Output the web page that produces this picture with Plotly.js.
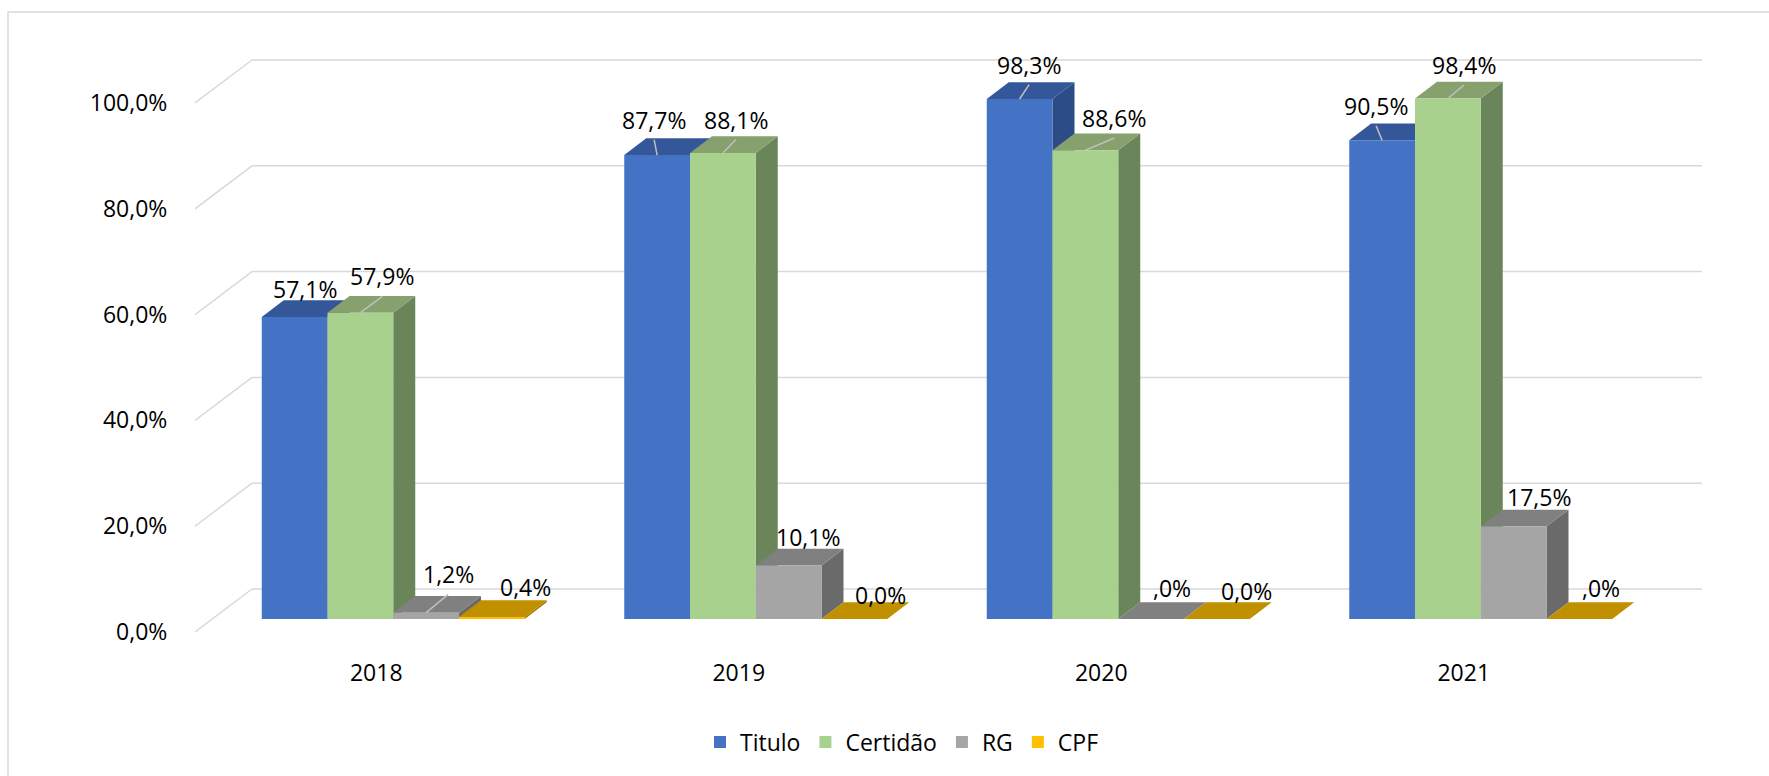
<!DOCTYPE html>
<html><head><meta charset="utf-8">
<script src="https://cdn.plot.ly/plotly-3.0.1.min.js"></script>
<style>html,body{margin:0;padding:0;background:#fff}#chart{width:1769px;height:776px}</style>
</head><body><div id="chart"></div>
<script>
// ---------------- data ----------------
const years = ['2018', '2019', '2020', '2021'];
const seriesNames = ['Titulo', 'Certidão', 'RG', 'CPF'];
const titulo = [0.571, 0.877, 0.983, 0.905];
const certidao = [0.579, 0.881, 0.886, 0.984];
const rg = [0.012, 0.101, 0.0, 0.175];
const cpf = [0.004, 0.0, 0.0, 0.0];
const tituloLabels = ['57,1%', '87,7%', '98,3%', '90,5%'];
const certidaoLabels = ['57,9%', '88,1%', '88,6%', '98,4%'];
const rgLabels = ['1,2%', '10,1%', ',0%', '17,5%'];
const cpfLabels = ['0,4%', '0,0%', '0,0%', ',0%'];
const yTicks = [0, 0.2, 0.4, 0.6, 0.8, 1.0];

// ---------------- layout / style ----------------
const W = 1769, H = 776;
const FRONT = {x0: 195, x1: 1645, yZero: 632, pxPerUnit: 529};
const BAR_SHIFT = {dx: 17, dy: 13};
const WALL_SHIFT = {dx: 57, dy: 43};
const DEPTH = {dx: 22, dy: 16.7};
const BARGAP = 0.2745;
const FONT = 'Open Sans, Noto Sans, sans-serif';
const FS = 23;
const GRID = '#D9D9D9';
const faceColors = [
  {front: '#4472C4', top: '#34579A', side: '#2C4C86'},
  {front: '#A9D18E', top: '#86A06E', side: '#6A8559'},
  {front: '#A5A5A5', top: '#808080', side: '#6A6A6A'},
  {front: '#FFC000', top: '#C09000', side: '#A37B00'}
];
// label nudges in px relative to the top-face centre: [dx, dy(down), leader]
const labelNudge = [
  [[-1, -20, 0], [-14, -27, 1], [-1.5, -26, 1], [-17, -26, 1]],
  [[11, -28, 1], [2, -25, 1], [18, -24, 1], [5, -25, 1]],
  [[11, -30, 1], [8, -20, 0], [10, -23, 0], [14, -21, 0]],
  [[23, -22, 0], [15, -16, 0], [19, -20, 0], [11, -23, 0]]
];

const values = [titulo, certidao, rg, cpf];
const labels = [tituloLabels, certidaoLabels, rgLabels, cpfLabels];

const fx = px => px / W;
const fy = px => 1 - px / H;
const catPx = (FRONT.x1 - FRONT.x0) / years.length;
const ddx = DEPTH.dx / catPx;
const ddy = DEPTH.dy / FRONT.pxPerUnit;
const nS = seriesNames.length;
const bw = (1 - BARGAP) / nS;

// bar traces (front faces)
const traces = seriesNames.map((name, i) => ({
  type: 'bar', name: name, x: years, y: values[i],
  xaxis: 'x2', yaxis: 'y2',
  marker: {color: faceColors[i].front, line: {width: 0}},
  hoverinfo: 'x+y+name'
}));

const shapes = [];
const annotations = [];

// chart border
shapes.push({type: 'rect', xref: 'paper', yref: 'paper', x0: fx(8), x1: 1.05, y0: fy(12), y1: -0.05,
  line: {color: GRID, width: 1.5}, fillcolor: 'rgba(0,0,0,0)', layer: 'below'});

// diagonal lines from front axis to back wall
yTicks.forEach(v => {
  shapes.push({type: 'line', xref: 'x3', yref: 'y3', layer: 'below',
    x0: -0.5, y0: v, x1: -0.5 + WALL_SHIFT.dx / catPx, y1: v + WALL_SHIFT.dy / FRONT.pxPerUnit,
    line: {color: GRID, width: 1.5}});
});

// back-wall gridlines (in the bar plane's coordinates, shifted back)
const wallDx = (WALL_SHIFT.dx - BAR_SHIFT.dx) / catPx;
const wallDy = (WALL_SHIFT.dy - BAR_SHIFT.dy) / FRONT.pxPerUnit;
yTicks.forEach(v => {
  shapes.push({type: 'line', xref: 'x2', yref: 'y2', layer: 'below',
    x0: -0.5 + wallDx, x1: years.length - 0.5 + wallDx, y0: v + wallDy, y1: v + wallDy,
    line: {color: GRID, width: 1.5}});
});

// 3D faces + labels
for (let j = 0; j < years.length; j++) {
  for (let i = 0; i < nS; i++) {
    const v = values[i][j];
    const xa = j - 0.5 + BARGAP / 2 + i * bw;
    const xb = xa + bw;
    const c = faceColors[i];
    shapes.push({type: 'path', xref: 'x2', yref: 'y2', layer: 'below', line: {width: 0}, fillcolor: c.side,
      path: `M${xb},0 L${xb + ddx},${ddy} L${xb + ddx},${v + ddy} L${xb},${v} Z`});
    shapes.push({type: 'path', xref: 'x2', yref: 'y2', layer: 'below', line: {width: 0}, fillcolor: c.top,
      path: `M${xa},${v} L${xa + ddx},${v + ddy} L${xb + ddx},${v + ddy} L${xb},${v} Z`});
    const cx = (xa + xb) / 2 + ddx / 2;
    const cy = v + ddy / 2;
    const nd = labelNudge[i][j];
    annotations.push({xref: 'x2', yref: 'y2', x: cx, y: cy, xshift: nd[0], yshift: -nd[1],
      text: labels[i][j], showarrow: false, xanchor: 'center', yanchor: 'middle',
      font: {family: FONT, size: FS, color: '#000'}});
    if (nd[2]) {
      shapes.push({type: 'line', xref: 'x2', yref: 'y2', layer: 'above',
        xsizemode: 'pixel', xanchor: cx, x0: -DEPTH.dx / 2, x1: nd[0],
        ysizemode: 'pixel', yanchor: cy, y0: -DEPTH.dy / 2, y1: -(nd[1] + 20),
        line: {color: '#BFBFBF', width: 1.5}});
    }
  }
}

const barTop = 1.1;
const frontTopPx = 55;
const x2RightPx = FRONT.x1 + WALL_SHIFT.dx + 10;
const x2Extra = (x2RightPx - (FRONT.x1 + BAR_SHIFT.dx)) / catPx;

const layout = {
  width: W, height: H, autosize: false,
  margin: {l: 0, r: 0, t: 0, b: 0},
  paper_bgcolor: '#fff', plot_bgcolor: 'rgba(0,0,0,0)',
  separators: ',.',
  font: {family: FONT, size: FS, color: '#000'},
  showlegend: true,
  legend: {orientation: 'h', x: fx(902), xanchor: 'center', y: fy(742), yanchor: 'middle',
    font: {family: FONT, size: FS, color: '#000'}, itemwidth: 30, traceorder: 'normal'},
  barmode: 'group', bargap: BARGAP, bargroupgap: 0,
  xaxis: {visible: false},
  yaxis: {visible: false},
  // bar plane (also carries the back wall)
  xaxis2: {domain: [fx(FRONT.x0 + BAR_SHIFT.dx), fx(x2RightPx)], type: 'category',
    categoryorder: 'array', categoryarray: years, range: [-0.5, years.length - 0.5 + x2Extra], anchor: 'y2',
    showgrid: false, zeroline: false, showticklabels: false, showline: false, ticks: '', fixedrange: true},
  yaxis2: {domain: [fy(FRONT.yZero - BAR_SHIFT.dy), fy(FRONT.yZero - BAR_SHIFT.dy - barTop * FRONT.pxPerUnit)],
    range: [0, barTop], anchor: 'x2',
    showgrid: false, zeroline: false, showticklabels: false, showline: false, ticks: '', fixedrange: true},
  // front axes (labels)
  xaxis3: {domain: [fx(FRONT.x0), fx(FRONT.x1)], range: [-0.5, 3.5], anchor: 'y3',
    tickvals: years.map((_, k) => k), ticktext: years, ticks: 'outside', ticklen: 20,
    tickcolor: 'rgba(0,0,0,0)', showgrid: false, zeroline: false, showline: false,
    tickfont: {family: FONT, size: FS, color: '#000'}, fixedrange: true},
  yaxis3: {domain: [fy(FRONT.yZero), fy(frontTopPx)], range: [0, (FRONT.yZero - frontTopPx) / FRONT.pxPerUnit],
    anchor: 'x3', tickvals: yTicks, tickformat: '.1%', ticks: 'outside', ticklen: 22,
    tickcolor: 'rgba(0,0,0,0)', showgrid: false, zeroline: false, showline: false,
    tickfont: {family: FONT, size: FS, color: '#000'}, fixedrange: true},
  shapes: shapes,
  annotations: annotations
};

Plotly.newPlot('chart', traces, layout, {displayModeBar: false, staticPlot: true});
</script>
</body></html>
